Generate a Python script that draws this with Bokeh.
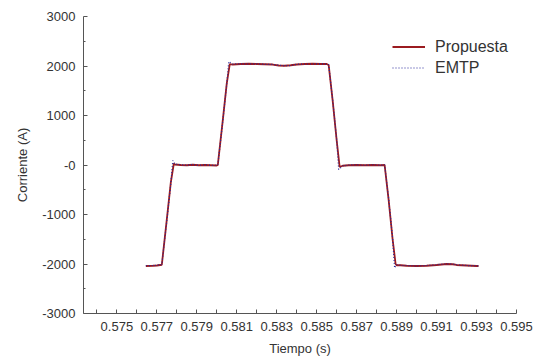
from bokeh.plotting import figure
from bokeh.models import Range1d, FixedTicker, PrintfTickFormatter, Legend, LegendItem
from bokeh.embed import file_html
from bokeh.resources import INLINE

# --- data ---
t_prop = [0.57645, 0.5768, 0.5770, 0.57725, 0.5775, 0.5777, 0.57785, 0.5779, 0.5782,
          0.5785, 0.5788, 0.5791, 0.5794, 0.5797, 0.5800, 0.58005, 0.5803, 0.5805,
          0.58065, 0.5808, 0.5812, 0.5816, 0.5820, 0.5824, 0.5828, 0.5831, 0.5834,
          0.5837, 0.5840, 0.5844, 0.5848, 0.5852, 0.5855, 0.5856, 0.5858, 0.5860,
          0.58615, 0.5863, 0.5866, 0.5870, 0.5874, 0.5878, 0.5882, 0.5884, 0.5886,
          0.5888, 0.58895, 0.5890, 0.5892, 0.5895, 0.5900, 0.5905, 0.5910, 0.5915,
          0.5918, 0.5920, 0.5925, 0.5930, 0.5931]
i_prop = [-2040, -2035, -2030, -2015, -1100, -350, 30, 10, 0,
          -5, 5, -5, 0, -5, -10, -5, 900, 1650,
          2040, 2030, 2040, 2045, 2040, 2035, 2030, 2010, 2005,
          2015, 2030, 2040, 2045, 2040, 2040, 2020, 1300, 500,
          -40, -15, -5, 0, -5, 0, -5, 0, -700,
          -1500, -2000, -2025, -2025, -2035, -2040, -2035, -2020, -2000,
          -2005, -2020, -2030, -2040, -2040]

t_emtp = [0.57645, 0.5768, 0.5770, 0.57725, 0.5775, 0.5777, 0.5778, 0.5779, 0.5782,
          0.5785, 0.5788, 0.5791, 0.5794, 0.5797, 0.5800, 0.58005, 0.5803, 0.5805,
          0.5806, 0.5808, 0.5812, 0.5816, 0.5820, 0.5824, 0.5828, 0.5831, 0.5834,
          0.5837, 0.5840, 0.5844, 0.5848, 0.5852, 0.5855, 0.5856, 0.5858, 0.5860,
          0.5861, 0.5863, 0.5866, 0.5870, 0.5874, 0.5878, 0.5882, 0.5884, 0.5886,
          0.5888, 0.5889, 0.5890, 0.5892, 0.5895, 0.5900, 0.5905, 0.5910, 0.5915,
          0.5918, 0.5920, 0.5925, 0.5930, 0.5931]
i_emtp = [-2035, -2030, -2025, -2010, -1120, -380, 90, 20, 5,
          -5, 10, -5, 5, -5, -5, 0, 880, 1640,
          2090, 2040, 2045, 2040, 2045, 2035, 2030, 2015, 2005,
          2010, 2035, 2040, 2040, 2045, 2035, 2025, 1320, 520,
          -90, -20, 0, 5, -5, 5, -5, 5, -680,
          -1480, -2080, -2010, -2030, -2030, -2040, -2030, -2015, -1995,
          -2000, -2015, -2030, -2035, -2040]

x_major = [0.575, 0.577, 0.579, 0.581, 0.583, 0.585, 0.587, 0.589, 0.591, 0.593, 0.595]
x_minor = [0.574, 0.576, 0.578, 0.580, 0.582, 0.584, 0.586, 0.588, 0.590, 0.592, 0.594]
y_major = [-3000, -2000, -1000, 0, 1000, 2000, 3000]
y_labels = ["-3000", "-2000", "-1000", "-0", "1000", "2000", "3000"]
y_minor = [-2500, -1500, -500, 500, 1500, 2500]

FONT = "Liberation Sans"
TXT = "#333333"
AX = "#555555"

p = figure(width=536, height=358, output_backend="svg", toolbar_location=None,
           x_range=Range1d(0.57333, 0.595), y_range=Range1d(-3000, 3000),
           min_border_left=83, min_border_right=20, min_border_top=16, min_border_bottom=43)
p.outline_line_color = None
p.xgrid.visible = False
p.ygrid.visible = False

r1 = p.line(t_prop, i_prop, line_color="#9b1b20", line_width=1.8)
r2 = p.line(t_emtp, i_emtp, line_color="#2a2a9a", line_width=1.2, line_dash="1 2")

for ax in (p.xaxis[0], p.yaxis[0]):
    ax.axis_line_color = AX
    ax.major_tick_line_color = AX
    ax.minor_tick_line_color = AX
    ax.major_tick_out = 0
    ax.minor_tick_out = 0
    ax.major_label_text_font = FONT
    ax.major_label_text_font_size = "13px"
    ax.major_label_text_color = TXT
    ax.axis_label_text_font = FONT
    ax.axis_label_text_font_size = "13px"
    ax.axis_label_text_color = TXT
    ax.axis_label_text_font_style = "normal"

xa = p.xaxis[0]
xa.ticker = FixedTicker(ticks=x_major, minor_ticks=x_minor)
xa.formatter = PrintfTickFormatter(format="%.3f")
xa.major_tick_in = 4
xa.minor_tick_in = 4
xa.major_label_standoff = 8
xa.axis_label = "Tiempo (s)"
xa.axis_label_standoff = 7

ya = p.yaxis[0]
ya.ticker = FixedTicker(ticks=y_major, minor_ticks=y_minor)
ya.major_label_overrides = {v: s for v, s in zip(y_major, y_labels)}
ya.major_tick_in = 4
ya.minor_tick_in = 2
ya.major_label_standoff = 8
ya.axis_label = "Corriente (A)"
ya.axis_label_standoff = 9

legend = Legend(items=[LegendItem(label="Propuesta", renderers=[r1]),
                       LegendItem(label="EMTP", renderers=[r2])],
                location=(309, 235), border_line_color=None, background_fill_alpha=0,
                padding=0, margin=0, spacing=0, glyph_width=33, glyph_height=21,
                label_height=21, label_standoff=10,
                label_text_font=FONT, label_text_font_size="16px", label_text_color=TXT)
p.add_layout(legend)

open("out.html", "w").write(file_html(p, INLINE))
